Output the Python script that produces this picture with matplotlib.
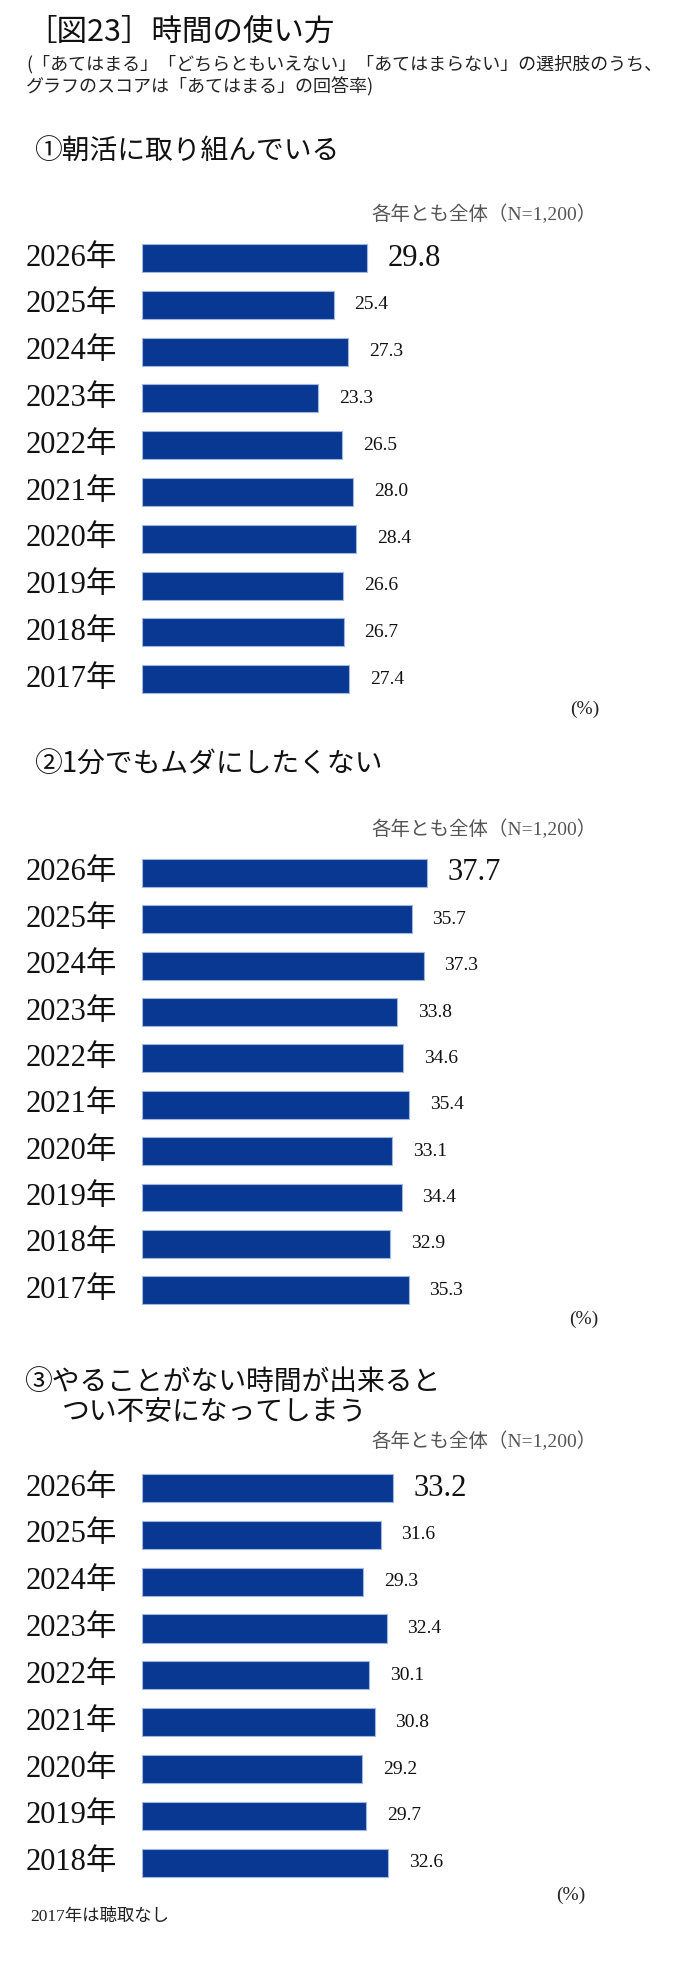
import matplotlib
matplotlib.use("Agg")
import matplotlib.pyplot as plt
from matplotlib.transforms import blended_transform_factory

plt.rcParams['font.family'] = ['Noto Sans CJK JP', 'DejaVu Sans']

# ---- data ----
years1 = ["2026年", "2025年", "2024年", "2023年", "2022年", "2021年", "2020年", "2019年", "2018年", "2017年"]
vals1 = [29.8, 25.4, 27.3, 23.3, 26.5, 28.0, 28.4, 26.6, 26.7, 27.4]
years2 = ["2026年", "2025年", "2024年", "2023年", "2022年", "2021年", "2020年", "2019年", "2018年", "2017年"]
vals2 = [37.7, 35.7, 37.3, 33.8, 34.6, 35.4, 33.1, 34.4, 32.9, 35.3]
years3 = ["2026年", "2025年", "2024年", "2023年", "2022年", "2021年", "2020年", "2019年", "2018年"]
vals3 = [33.2, 31.6, 29.3, 32.4, 30.1, 30.8, 29.2, 29.7, 32.6]

title = "［図23］時間の使い方"
subtitle1 = "(「あてはまる」「どちらともいえない」「あてはまらない」の選択肢のうち、"
subtitle2 = "グラフのスコアは「あてはまる」の回答率)"
chart_titles = ["①朝活に取り組んでいる", "②1分でもムダにしたくない",
                "③やることがない時間が出来ると\nつい不安になってしまう"]
base_note = "各年とも全体（N=1,200）"
unit = "(%)"
footnote = "2017年は聴取なし"

W, H = 684, 1963
fig = plt.figure(figsize=(W / 100, H / 100), dpi=100)

def fx(x):
    return x / W

def fy(y):
    return 1 - y / H

SERIF = ['Liberation Serif', 'Noto Sans CJK JP']
BAR = '#083891'
EDGE = '#9fb6de'
BAR_LEFT = 142
PX_PER_UNIT = 7.55

fig.text(fx(26), fy(32), title, fontsize=22, va='center', ha='left', color='#111111')
fig.text(fx(26), fy(64), subtitle1, fontsize=13, va='center', ha='left', color='#222222')
fig.text(fx(26), fy(87), subtitle2, fontsize=13, va='center', ha='left', color='#222222')

layouts = [
    dict(title_x=34, title_y=152, note_y=214, c0=258, sp=46.8, unit_y=709, unit_x=585),
    dict(title_x=34, title_y=765, note_y=829, c0=873, sp=46.35, unit_y=1319, unit_x=584),
    dict(title_x=24, title_y=1382, note_y=1441, c0=1488, sp=46.85, unit_y=1895, unit_x=571),
]
datasets = [(years1, vals1), (years2, vals2), (years3, vals3)]

for (years, vals), lay, ctitle in zip(datasets, layouts, chart_titles):
    n = len(years)
    top = lay['c0'] - lay['sp'] / 2
    bottom = lay['c0'] + (n - 0.5) * lay['sp']
    ax = fig.add_axes([fx(BAR_LEFT), fy(bottom), (W - BAR_LEFT) / W, (bottom - top) / H])
    ax.barh(range(n), vals, height=0.6, color=BAR, edgecolor=EDGE, linewidth=0.8)
    ax.set_ylim(n - 0.5, -0.5)
    ax.set_xlim(0, (W - BAR_LEFT) / PX_PER_UNIT)
    ax.axis('off')
    tr = blended_transform_factory(fig.transFigure, ax.transData)
    for i, (yl, v) in enumerate(zip(years, vals)):
        ax.text(fx(26), i, yl, transform=tr, fontsize=22, family=SERIF,
                va='center', ha='left', color='#111111')
        big = (i == 0)
        ax.annotate(f"{v:.1f}", xy=(v, i), xytext=(15, 0), textcoords='offset points',
                    fontsize=22 if big else 14, family=SERIF, va='center', ha='left',
                    color='#111111')
    lines = ctitle.split("\n")
    fig.text(fx(lay['title_x']), fy(lay['title_y']), lines[0], fontsize=20, va='center',
             ha='left', color='#111111')
    if len(lines) > 1:
        fig.text(fx(62), fy(lay['title_y'] + 30), lines[1], fontsize=20, va='center',
                 ha='left', color='#111111')
    fig.text(fx(597), fy(lay['note_y']), base_note, fontsize=14, family=SERIF,
             va='center', ha='right', color='#555555')
    fig.text(fx(lay['unit_x']), fy(lay['unit_y']), unit, fontsize=14, family=SERIF,
             va='center', ha='center', color='#222222')

fig.text(fx(30), fy(1917), footnote, fontsize=12.5, family=SERIF, va='center', ha='left',
         color='#222222')

fig.savefig("out.png", dpi=100, facecolor='white')
